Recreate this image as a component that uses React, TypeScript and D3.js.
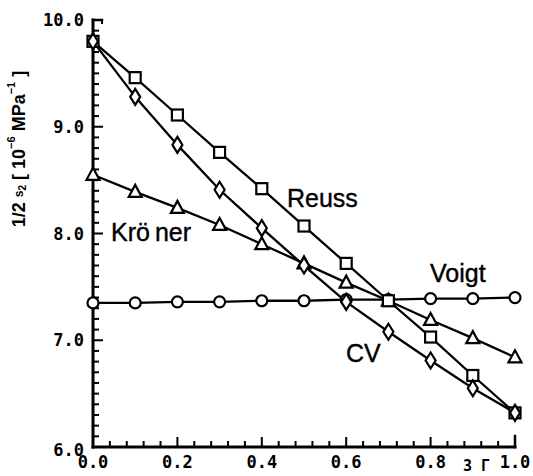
import React from "react";
import * as d3 from "d3";

const xValues = [0, 0.1, 0.2, 0.3, 0.4, 0.5, 0.6, 0.7, 0.8, 0.9, 1.0];
const reuss = [9.8, 9.46, 9.11, 8.76, 8.42, 8.07, 7.72, 7.37, 7.03, 6.67, 6.32];
const cv = [9.8, 9.28, 8.83, 8.41, 8.05, 7.7, 7.36, 7.08, 6.81, 6.55, 6.32];
const kroner = [8.55, 8.39, 8.24, 8.08, 7.9, 7.72, 7.54, 7.37, 7.19, 7.02, 6.84];
const voigt = [7.35, 7.35, 7.36, 7.36, 7.37, 7.37, 7.38, 7.38, 7.39, 7.39, 7.4];

const xTickLabels = ["0.0", "0.2", "0.4", "0.6", "0.8", "1.0"];
const yTickLabels = ["6.0", "7.0", "8.0", "9.0", "10.0"];

const W = 533;
const H = 476;

export default function App() {
  const x = d3.scaleLinear().domain([0, 1]).range([93, 515]);
  const y = d3.scaleLinear().domain([6, 10]).range([447, 20]);
  const line = d3
    .line<number>()
    .x((_, i) => x(xValues[i]))
    .y((d) => y(d));

  const xMinor = d3.range(0, 26).map((i) => i * 0.04);
  const yMinor = d3.range(0, 41).map((i) => 6 + i * 0.1);

  const sw = 2.2;
  const tickFont = "'DejaVu Sans Mono', monospace";

  const square = (cx: number, cy: number, k: string) => (
    <rect key={k} x={cx - 5.5} y={cy - 5.5} width={11} height={11} fill="#fff" stroke="#000" strokeWidth={sw} />
  );
  const diamond = (cx: number, cy: number, k: string) => (
    <path key={k} d={`M${cx},${cy - 8} L${cx + 5},${cy} L${cx},${cy + 8} L${cx - 5},${cy} Z`} fill="#fff" stroke="#000" strokeWidth={sw} />
  );
  const triangle = (cx: number, cy: number, k: string) => (
    <path key={k} d={`M${cx},${cy - 7} L${cx + 6.5},${cy + 5} L${cx - 6.5},${cy + 5} Z`} fill="#fff" stroke="#000" strokeWidth={sw} />
  );
  const circle = (cx: number, cy: number, k: string) => (
    <circle key={k} cx={cx} cy={cy} r={5.5} fill="#fff" stroke="#000" strokeWidth={sw} />
  );

  const series = [
    { data: voigt, m: circle },
    { data: kroner, m: triangle },
    { data: reuss, m: square },
    { data: cv, m: diamond },
  ];

  return (
    <svg width={W} height={H} style={{ position: "absolute", left: 0, top: 0, background: "#fff" }}>
      <rect x={0} y={0} width={W} height={H} fill="#fff" />
      {/* axes */}
      <g stroke="#000" strokeLinecap="square">
        <line x1={x(0)} y1={y(6)} x2={x(0)} y2={y(10)} strokeWidth={3} />
        <line x1={x(0)} y1={y(6)} x2={x(1)} y2={y(6)} strokeWidth={3} />
        <line x1={x(1)} y1={y(6)} x2={x(1)} y2={y(6) - 11} strokeWidth={2.5} />
        <line x1={x(0)} y1={y(10)} x2={x(0) + 9} y2={y(10)} strokeWidth={2.5} />
        <line x1={x(0) + 9} y1={y(10)} x2={x(0) + 9} y2={y(10) + 3} strokeWidth={2} />
        {yMinor.map((v, i) => {
          const major = i % 10 === 0;
          return (
            <line key={"yt" + i} x1={x(0)} x2={x(0) + (major ? 9 : 5)} y1={y(v)} y2={y(v)} strokeWidth={2} />
          );
        })}
        {xMinor.map((v, i) => {
          const major = i % 5 === 0;
          return (
            <line key={"xt" + i} x1={x(v)} x2={x(v)} y1={y(6)} y2={y(6) - (major ? 9 : 5)} strokeWidth={2} />
          );
        })}
      </g>
      {/* tick labels */}
      <g fontFamily={tickFont} fontWeight="bold" fontSize={17} fill="#000">
        {yTickLabels.map((t) => (
          <text key={"yl" + t} x={x(0) - 9} y={y(parseFloat(t)) + (t === "6.0" ? 3 : 0)} dy="0.36em" textAnchor="end">
            {t}
          </text>
        ))}
        {xTickLabels.map((t) => (
          <text key={"xl" + t} x={x(parseFloat(t))} y={y(6) + 15} dy="0.36em" textAnchor="middle">
            {t}
          </text>
        ))}
        <text x={463} y={471} fontSize={15}>
          3 Γ
        </text>
      </g>
      {/* y axis label */}
      <text
        transform={`translate(20,149) rotate(-90)`}
        textAnchor="middle"
        dominantBaseline="middle"
        fontFamily="'Liberation Sans', Arial, sans-serif"
        fontWeight="bold"
        fontSize={18}
        fill="#000"
      >
        <tspan>1/2 </tspan>
        <tspan fontSize={12}>s</tspan>
        <tspan fontSize={10} dy={3}>2</tspan>
        <tspan dy={-3}> [ 10</tspan>
        <tspan fontSize={11} dy={-8}>−6</tspan>
        <tspan dy={8}> MPa</tspan>
        <tspan fontSize={11} dy={-8}>−1</tspan>
        <tspan dy={8}> ]</tspan>
      </text>
      {/* lines */}
      <g fill="none" stroke="#000" strokeWidth={2.3}>
        {series.map((s, i) => (
          <path key={"l" + i} d={line(s.data) || ""} />
        ))}
      </g>
      {/* markers */}
      <g>
        {series.map((s, si) => s.data.map((v, i) => s.m(x(xValues[i]), y(v), `m${si}-${i}`)))}
      </g>
      {/* series labels */}
      <g fontFamily="'Liberation Sans', Arial, sans-serif" fontSize={25} fill="#000" stroke="#000" strokeWidth={0.4}>
        <text x={287} y={207}>Reuss</text>
        <text x={430} y={282}>Voigt</text>
        <text x={111} y={241}>
          Krö<tspan dx={5}>ner</tspan>
        </text>
        <text x={346} y={362}>CV</text>
      </g>
    </svg>
  );
}
